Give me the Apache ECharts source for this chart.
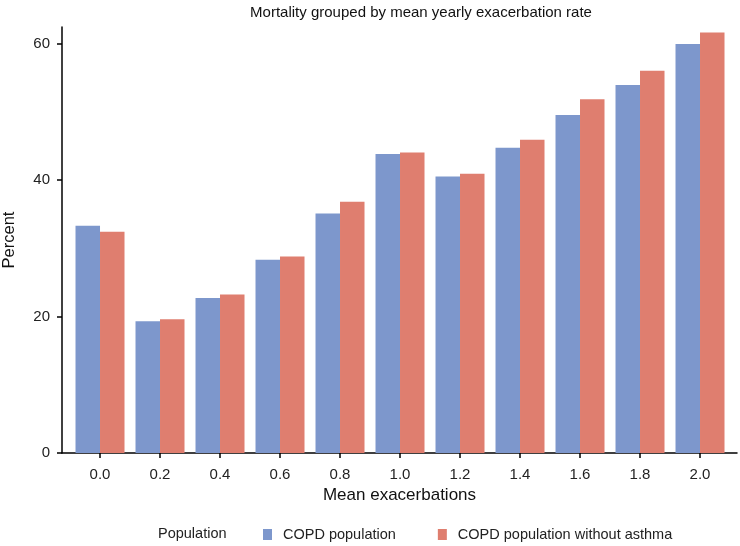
<!DOCTYPE html>
<html>
<head>
<meta charset="utf-8">
<script src="https://cdn.jsdelivr.net/npm/echarts@6/dist/echarts.min.js"></script>
<style>html,body{margin:0;padding:0;background:#fff}#c{width:740px;height:546px}</style>
</head>
<body>
<div id="c"></div>
<script>
const categories = ['0.0','0.2','0.4','0.6','0.8','1.0','1.2','1.4','1.6','1.8','2.0'];
const xValues = [0, 0.2, 0.4, 0.6, 0.8, 1.0, 1.2, 1.4, 1.6, 1.8, 2.0];
const copd = [33.3, 19.3, 22.7, 28.3, 35.1, 43.8, 40.5, 44.7, 49.5, 53.9, 59.9];
const copdNoAsthma = [32.4, 19.6, 23.2, 28.8, 36.8, 44.0, 40.9, 45.9, 51.8, 56.0, 61.6];
const yTicks = [0, 20, 40, 60];
const seriesNames = ['COPD population', 'COPD population without asthma'];
const colors = ['#7d97cc', '#df7e6f'];

const font = 'Liberation Sans, Arial, Helvetica, sans-serif';
const chart = echarts.init(document.getElementById('c'), null, {renderer: 'canvas'});
chart.setOption({
  animation: false,
  backgroundColor: '#fff',
  color: colors,
  textStyle: {fontFamily: font},
  title: [
    {text: 'Mortality grouped by mean yearly exacerbation rate', left: 416, top: 0, textAlign: 'center',
     textStyle: {fontSize: 15, fontWeight: 'normal', color: '#111', fontFamily: font}},
    {text: 'Population', left: 153, top: 521,
     textStyle: {fontSize: 14.5, fontWeight: 'normal', color: '#222', fontFamily: font}}
  ],
  legend: {
    left: 258, top: 522, itemWidth: 9, itemHeight: 11, itemGap: 42, icon: 'rect',
    textStyle: {fontSize: 14.5, color: '#222', fontFamily: font, padding: [0, 0, 0, 6]},
    data: seriesNames
  },
  grid: {left: 62, right: 3, top: 27, bottom: 93, outerBoundsMode: 'none', containLabel: false},
  xAxis: {
    type: 'value', min: -0.1267, max: 2.1233,
    name: 'Mean exacerbations', nameLocation: 'middle', nameGap: 33,
    nameTextStyle: {fontSize: 17, color: '#111', fontFamily: font},
    axisLine: {onZero: false, lineStyle: {color: '#000', width: 1.5}},
    axisTick: {show: true, customValues: xValues, length: 5, lineStyle: {color: '#000', width: 1.5}},
    axisLabel: {customValues: xValues, formatter: v => v.toFixed(1), fontSize: 15, color: '#222', margin: 14, fontFamily: font},
    splitLine: {show: false}
  },
  yAxis: {
    type: 'value', min: 0, max: 62.4,
    name: 'Percent', nameLocation: 'middle', nameGap: 44, nameRotate: 90,
    nameTextStyle: {fontSize: 16.5, color: '#111', fontFamily: font},
    axisLine: {show: true, onZero: false, lineStyle: {color: '#000', width: 1.5}},
    axisTick: {show: true, customValues: yTicks, length: 5, lineStyle: {color: '#000', width: 1.5}},
    axisLabel: {customValues: yTicks, fontSize: 15, color: '#222', margin: 12, fontFamily: font},
    splitLine: {show: false}
  },
  series: [
    {name: seriesNames[0], type: 'bar', barWidth: 24.5, barGap: '0%',
     data: xValues.map((x, i) => [x, copd[i]])},
    {name: seriesNames[1], type: 'bar', barWidth: 24.5, barGap: '0%',
     data: xValues.map((x, i) => [x, copdNoAsthma[i]])}
  ]
});
</script>
</body>
</html>
